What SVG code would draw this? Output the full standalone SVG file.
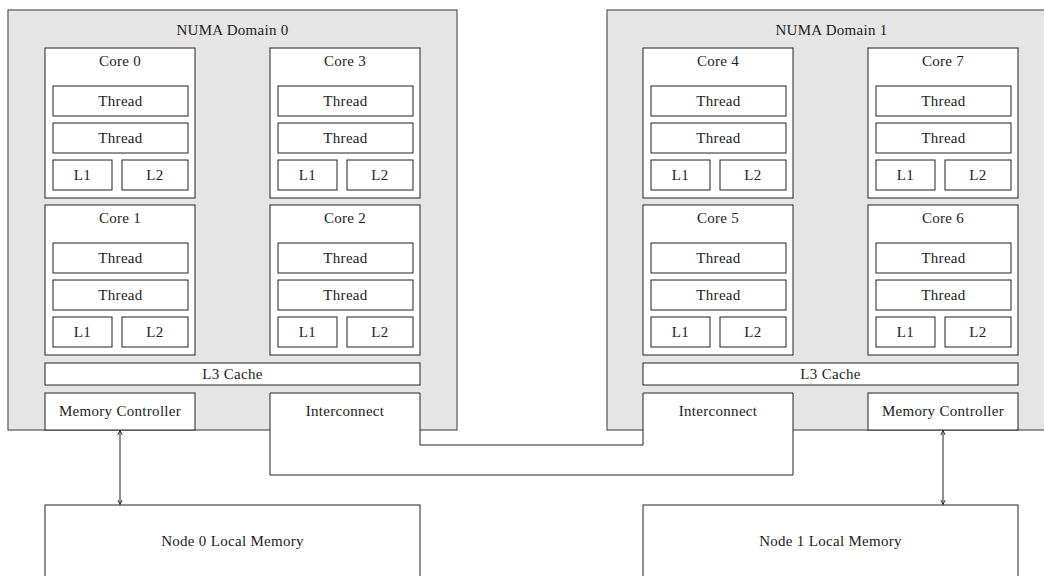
<svg xmlns="http://www.w3.org/2000/svg" width="1044" height="576" viewBox="0 0 1044 576">
<defs>
<style>
.dom{fill:#e5e5e5;stroke:#555;stroke-width:1.2}
.box{fill:#fff;stroke:#222;stroke-width:1}
.t{font-family:"Liberation Serif","Times New Roman",serif;font-size:15px;letter-spacing:0.3px;fill:#222;text-anchor:middle}
.ln{stroke:#222;stroke-width:1;fill:none}
</style>
<marker id="ah" viewBox="0 0 6 6" refX="5.5" refY="3" markerWidth="6" markerHeight="6" orient="auto-start-reverse" markerUnits="userSpaceOnUse">
<path d="M1,0.8 L5.5,3 L1,5.2" fill="none" stroke="#222" stroke-width="0.9"/>
</marker>
</defs>
<rect width="1044" height="576" fill="#fff"/>

<g id="domain0">
<rect class="dom" x="8" y="10" width="449" height="420"/>
<text class="t" x="232.5" y="35">NUMA Domain 0</text>
</g>
<g id="domain1">
<rect class="dom" x="607" y="10" width="449" height="420"/>
<text class="t" x="831.5" y="35">NUMA Domain 1</text>
</g>

<g id="core0" transform="translate(45,48)">
<rect class="box" x="0" y="0" width="150" height="150"/><text class="t" x="75" y="18">Core 0</text>
<rect class="box" x="8" y="38" width="135" height="30"/><text class="t" x="75.5" y="58">Thread</text>
<rect class="box" x="8" y="75" width="135" height="30"/><text class="t" x="75.5" y="95">Thread</text>
<rect class="box" x="8" y="112" width="59" height="30"/><text class="t" x="37.5" y="132">L1</text>
<rect class="box" x="77" y="112" width="66" height="30"/><text class="t" x="110" y="132">L2</text>
</g>
<g id="core3" transform="translate(270,48)">
<rect class="box" x="0" y="0" width="150" height="150"/><text class="t" x="75" y="18">Core 3</text>
<rect class="box" x="8" y="38" width="135" height="30"/><text class="t" x="75.5" y="58">Thread</text>
<rect class="box" x="8" y="75" width="135" height="30"/><text class="t" x="75.5" y="95">Thread</text>
<rect class="box" x="8" y="112" width="59" height="30"/><text class="t" x="37.5" y="132">L1</text>
<rect class="box" x="77" y="112" width="66" height="30"/><text class="t" x="110" y="132">L2</text>
</g>
<g id="core1" transform="translate(45,205)">
<rect class="box" x="0" y="0" width="150" height="150"/><text class="t" x="75" y="18">Core 1</text>
<rect class="box" x="8" y="38" width="135" height="30"/><text class="t" x="75.5" y="58">Thread</text>
<rect class="box" x="8" y="75" width="135" height="30"/><text class="t" x="75.5" y="95">Thread</text>
<rect class="box" x="8" y="112" width="59" height="30"/><text class="t" x="37.5" y="132">L1</text>
<rect class="box" x="77" y="112" width="66" height="30"/><text class="t" x="110" y="132">L2</text>
</g>
<g id="core2" transform="translate(270,205)">
<rect class="box" x="0" y="0" width="150" height="150"/><text class="t" x="75" y="18">Core 2</text>
<rect class="box" x="8" y="38" width="135" height="30"/><text class="t" x="75.5" y="58">Thread</text>
<rect class="box" x="8" y="75" width="135" height="30"/><text class="t" x="75.5" y="95">Thread</text>
<rect class="box" x="8" y="112" width="59" height="30"/><text class="t" x="37.5" y="132">L1</text>
<rect class="box" x="77" y="112" width="66" height="30"/><text class="t" x="110" y="132">L2</text>
</g>
<g id="core4" transform="translate(643,48)">
<rect class="box" x="0" y="0" width="150" height="150"/><text class="t" x="75" y="18">Core 4</text>
<rect class="box" x="8" y="38" width="135" height="30"/><text class="t" x="75.5" y="58">Thread</text>
<rect class="box" x="8" y="75" width="135" height="30"/><text class="t" x="75.5" y="95">Thread</text>
<rect class="box" x="8" y="112" width="59" height="30"/><text class="t" x="37.5" y="132">L1</text>
<rect class="box" x="77" y="112" width="66" height="30"/><text class="t" x="110" y="132">L2</text>
</g>
<g id="core7" transform="translate(868,48)">
<rect class="box" x="0" y="0" width="150" height="150"/><text class="t" x="75" y="18">Core 7</text>
<rect class="box" x="8" y="38" width="135" height="30"/><text class="t" x="75.5" y="58">Thread</text>
<rect class="box" x="8" y="75" width="135" height="30"/><text class="t" x="75.5" y="95">Thread</text>
<rect class="box" x="8" y="112" width="59" height="30"/><text class="t" x="37.5" y="132">L1</text>
<rect class="box" x="77" y="112" width="66" height="30"/><text class="t" x="110" y="132">L2</text>
</g>
<g id="core5" transform="translate(643,205)">
<rect class="box" x="0" y="0" width="150" height="150"/><text class="t" x="75" y="18">Core 5</text>
<rect class="box" x="8" y="38" width="135" height="30"/><text class="t" x="75.5" y="58">Thread</text>
<rect class="box" x="8" y="75" width="135" height="30"/><text class="t" x="75.5" y="95">Thread</text>
<rect class="box" x="8" y="112" width="59" height="30"/><text class="t" x="37.5" y="132">L1</text>
<rect class="box" x="77" y="112" width="66" height="30"/><text class="t" x="110" y="132">L2</text>
</g>
<g id="core6" transform="translate(868,205)">
<rect class="box" x="0" y="0" width="150" height="150"/><text class="t" x="75" y="18">Core 6</text>
<rect class="box" x="8" y="38" width="135" height="30"/><text class="t" x="75.5" y="58">Thread</text>
<rect class="box" x="8" y="75" width="135" height="30"/><text class="t" x="75.5" y="95">Thread</text>
<rect class="box" x="8" y="112" width="59" height="30"/><text class="t" x="37.5" y="132">L1</text>
<rect class="box" x="77" y="112" width="66" height="30"/><text class="t" x="110" y="132">L2</text>
</g>

<g id="l3cache0">
<rect class="box" x="45" y="363" width="375" height="22"/>
<text class="t" x="232.5" y="379">L3 Cache</text>
</g>
<g id="l3cache1">
<rect class="box" x="643" y="363" width="375" height="22"/>
<text class="t" x="830.5" y="379">L3 Cache</text>
</g>

<g id="memctrl0">
<rect class="box" x="45" y="393" width="150" height="37"/>
<text class="t" x="120" y="416">Memory Controller</text>
</g>
<g id="memctrl1">
<rect class="box" x="868" y="393" width="150" height="37"/>
<text class="t" x="943" y="416">Memory Controller</text>
</g>

<g id="interconnect">
<path class="box" d="M270,393 H420 V445 H643 V393 H793 V475 H270 Z"/>
<text class="t" x="345" y="416">Interconnect</text>
<text class="t" x="718" y="416">Interconnect</text>
</g>

<g id="memory0">
<rect class="box" x="45" y="505" width="375" height="80"/>
<text class="t" x="232.5" y="546">Node 0 Local Memory</text>
</g>
<g id="memory1">
<rect class="box" x="643" y="505" width="375" height="80"/>
<text class="t" x="830.5" y="546">Node 1 Local Memory</text>
</g>

<g id="connectors">
<line class="ln" x1="120" y1="430.5" x2="120" y2="504.5" marker-start="url(#ah)" marker-end="url(#ah)"/>
<line class="ln" x1="943" y1="430.5" x2="943" y2="504.5" marker-start="url(#ah)" marker-end="url(#ah)"/>
</g>
</svg>
